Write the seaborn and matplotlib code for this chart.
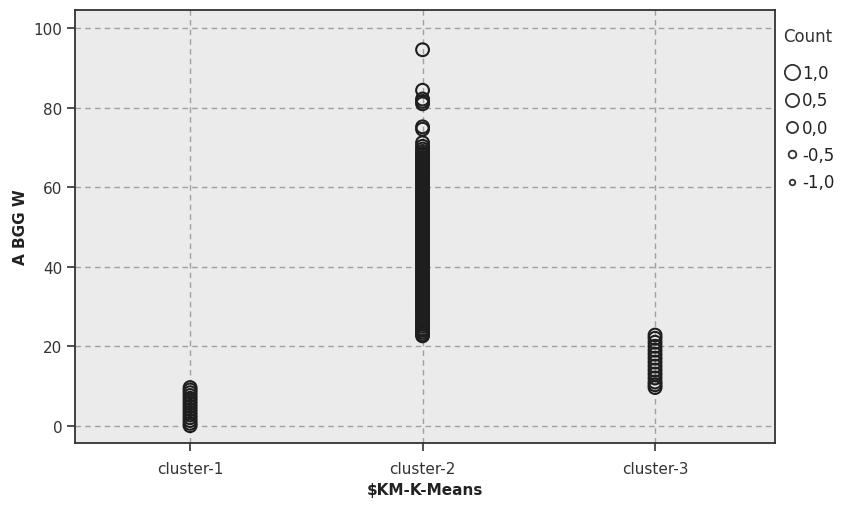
import matplotlib
matplotlib.use("Agg")
import matplotlib.pyplot as plt
from matplotlib.lines import Line2D
import seaborn as sns
import pandas as pd

# ---- data ----
clusters = ["cluster-1", "cluster-2", "cluster-3"]
cluster1_vals = [0.0, 0.6, 1.3, 2.0, 2.7, 3.4, 4.1, 4.8, 5.5, 6.2, 6.9, 7.6, 8.3, 9.0, 9.6]
cluster2_vals = [22.6, 23.0, 23.5, 24.0, 24.4, 25.0, 25.5, 26.0, 26.4, 27.0, 27.5, 28.0, 28.5,
                 29.0, 29.5, 30.0, 30.5, 31.0, 31.5, 32.0, 32.5, 33.0, 33.5, 34.0, 34.5, 35.0,
                 35.5, 36.0, 36.5, 37.0, 37.5, 38.0, 38.5, 39.0, 39.5, 40.0, 40.5, 41.0, 41.5,
                 42.0, 42.5, 43.0, 43.5, 44.0, 44.5, 45.0, 45.5, 46.0, 46.5, 47.0, 47.5, 48.0,
                 48.5, 49.0, 49.5, 50.0, 50.5, 51.0, 51.5, 52.0, 52.5, 53.0, 53.5, 54.0, 54.5,
                 55.0, 55.5, 56.0, 56.5, 57.0, 57.5, 58.0, 58.5, 59.0, 59.5, 60.0, 60.5, 61.0,
                 61.5, 62.0, 62.5, 63.0, 63.5, 64.0, 64.5, 65.0, 65.5, 66.0, 66.5, 67.0, 67.5,
                 68.0, 68.5, 69.0, 69.6, 70.3, 71.2, 74.6, 75.2, 81.0, 81.6, 82.2, 84.4, 94.6]
cluster3_vals = [9.6, 10.3, 11.0, 12.0, 13.0, 14.0, 15.0, 16.0, 17.0, 18.0, 19.0, 20.0, 21.0, 22.0, 22.8]
legend_title = "Count"
legend_values = ["1,0", "0,5", "0,0", "-0,5", "-1,0"]
y_ticks = [0, 20, 40, 60, 80, 100]

rows = []
for name, vals in zip(clusters, [cluster1_vals, cluster2_vals, cluster3_vals]):
    for v in vals:
        rows.append({"cluster": name, "value": v})
df = pd.DataFrame(rows)

sns.set_theme(style="white")
plt.rcParams["font.family"] = ["DejaVu Sans"]

fig = plt.figure(figsize=(8.5, 5.06), dpi=100)
ax = fig.add_axes([75 / 850, 1 - 444 / 506, 700 / 850, (444 - 11) / 506])
ax.set_facecolor("#ebebeb")

sns.scatterplot(data=df, x="cluster", y="value", ax=ax, marker="o", s=85,
                facecolors="none", edgecolor="#1e1e1e", linewidth=1.5, zorder=3,
                legend=False)

ax.set_xlim(-0.495, 2.516)
ax.set_ylim(-4.35, 104.6)
ax.set_yticks(y_ticks)
ax.set_yticklabels([str(t) for t in y_ticks])
ax.set_xticks(range(len(clusters)))
ax.set_xticklabels(clusters)

ax.grid(True, color="#a0a0a0", linestyle=(0, (4, 3)), linewidth=1.0, zorder=1)
ax.set_axisbelow(True)
for sp in ax.spines.values():
    sp.set_color("#333333")
    sp.set_linewidth(1.3)
ax.tick_params(axis="both", direction="out", length=6, width=1.2, color="#333333",
               labelsize=11, labelcolor="#333333", bottom=True, left=True)
ax.tick_params(axis="x", pad=7)
ax.tick_params(axis="y", pad=3)

ax.set_xlabel("\\$KM-K-Means", fontsize=11, fontweight="bold", color="#222222", labelpad=4)
ax.set_ylabel("A BGG W", fontsize=11, fontweight="bold", color="#222222", labelpad=4)

# size legend
fig.text(783 / 850, 1 - 37 / 506, legend_title, fontsize=12, color="#333333",
         ha="left", va="center")
sizes = [11, 9.5, 8, 5.5, 4]
handles = [Line2D([], [], linestyle="none", marker="o", markersize=ms, markerfacecolor="none",
                  markeredgecolor="#333333", markeredgewidth=1.3) for ms in sizes]
leg = ax.legend(handles, legend_values, loc="upper left",
                bbox_to_anchor=(784 / 850, 1 - 65 / 506), bbox_transform=fig.transFigure,
                frameon=False, fontsize=12, handlelength=0.9, handletextpad=0.2,
                labelspacing=0.56, borderaxespad=0, borderpad=0)
for t in leg.get_texts():
    t.set_color("#222222")

fig.savefig("out.png", dpi=100)
